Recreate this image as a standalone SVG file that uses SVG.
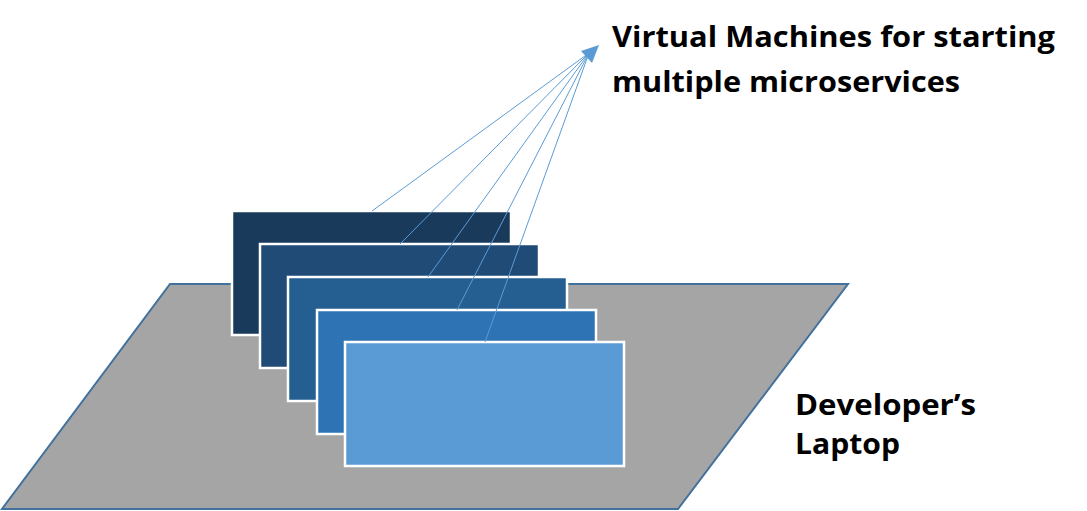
<svg xmlns="http://www.w3.org/2000/svg" width="1087" height="511" viewBox="0 0 1087 511">
<style>
.vm{stroke:#ffffff;stroke-width:2.5}
.lbl{font-family:"Open Sans","Liberation Sans",sans-serif;font-weight:700;font-size:29px;fill:#000000}
.conn{stroke:#5b9bd5;stroke-width:1;fill:none}
</style>
<rect width="1087" height="511" fill="#ffffff"/>
<g id="laptop">
<polygon points="170,284 848,284 678,509 2,509" fill="#a5a5a5" stroke="#41719c" stroke-width="2"/>
<text class="lbl" x="795" y="415" textLength="181" lengthAdjust="spacingAndGlyphs">Developer’s</text>
<text class="lbl" x="795" y="454" textLength="105" lengthAdjust="spacingAndGlyphs">Laptop</text>
</g>
<g id="vm1"><rect class="vm" x="232" y="211" width="279" height="124" fill="#1a3a5c"/></g>
<g id="vm2"><rect class="vm" x="260" y="244" width="279" height="124" fill="#204b76"/></g>
<g id="vm3"><rect class="vm" x="288" y="277" width="279" height="124" fill="#255f91"/></g>
<g id="vm4"><rect class="vm" x="317" y="310" width="279" height="124" fill="#2e74b5"/></g>
<g id="vm5"><rect class="vm" x="345" y="342" width="279" height="124" fill="#5b9bd5"/></g>
<g id="connectors">
<line class="conn" x1="372" y1="211" x2="589" y2="53"/>
<line class="conn" x1="400" y1="244" x2="589" y2="53"/>
<line class="conn" x1="428" y1="277" x2="589" y2="53"/>
<line class="conn" x1="457" y1="310" x2="589" y2="53"/>
<line class="conn" x1="485" y1="342" x2="589" y2="53"/>
<polygon points="599,45 581,51 592,63" fill="#5b9bd5"/>
</g>
<g id="title">
<text class="lbl" x="612" y="47" textLength="443" lengthAdjust="spacingAndGlyphs">Virtual Machines for starting</text>
<text class="lbl" x="612" y="92" textLength="348" lengthAdjust="spacingAndGlyphs">multiple microservices</text>
</g>
</svg>
